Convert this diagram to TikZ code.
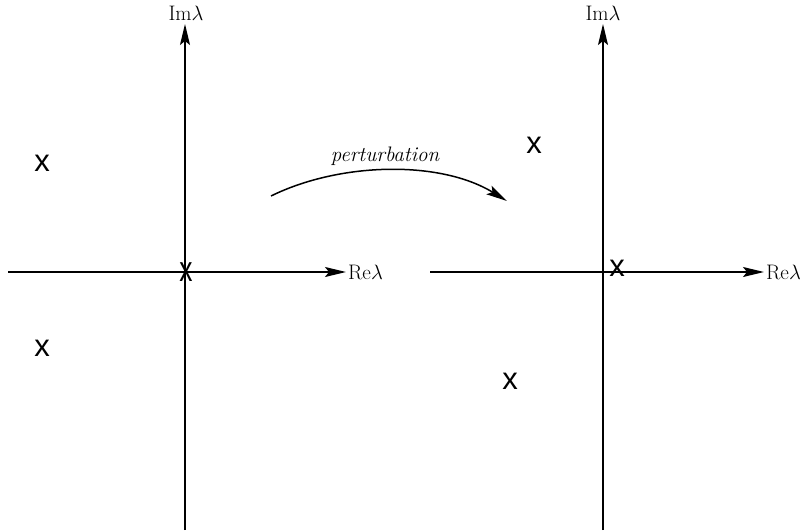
\documentclass[tikz,border=0pt]{standalone}
\usepackage{fontspec}
\newfontfamily\marksf{Liberation Sans}
\usetikzlibrary{arrows.meta}
\begin{document}
\begin{tikzpicture}[x=1pt,y=-1pt,
  tip/.style={-{Stealth[length=21pt,width=10pt,inset=4pt]}},
  axis/.style={line width=1.5pt,tip},
  lbl/.style={font=\fontsize{21}{23}\selectfont\addfontfeature{FakeBold=0.8},inner sep=0pt},
  eig/.style={font=\marksf\fontsize{31}{32}\selectfont,inner sep=0pt},
  pert/.style={font=\fontsize{21}{23}\selectfont\itshape\addfontfeature{LetterSpace=8,FakeBold=0.6},inner sep=0pt}]
\useasboundingbox (0,0) rectangle (808,530);
% left axes
\coordinate (lb) at (185,530);
\coordinate (lt) at (185,24);
\coordinate (ll) at (8,272);
\coordinate (lr) at (346,272);
\draw[axis] (lb) -- (lt);
\draw[axis] (ll) -- (lr);
\node[lbl,anchor=base] (limlab) at (186,20) {Im$\lambda$};
\node[lbl,anchor=west] (lrelab) at (348,272) {Re$\lambda$};
% right axes
\coordinate (rb) at (603,530);
\coordinate (rt) at (603,24);
\coordinate (rl) at (430,272);
\coordinate (rr) at (764,272);
\draw[axis] (rb) -- (rt);
\draw[axis] (rl) -- (rr);
\node[lbl,anchor=base] (rimlab) at (603,20) {Im$\lambda$};
\node[lbl,anchor=west] (rrelab) at (766,272) {Re$\lambda$};
% eigenvalues
\node[eig] (e1) at (42,163) {x};
\node[eig] (e2) at (42,348) {x};
\node[eig,yscale=1.15,xscale=0.85] (e0) at (186,272) {x};
\node[eig] (f1) at (534,145) {x};
\node[eig] (f2) at (510,381) {x};
\node[eig] (f0) at (617,268) {x};
% perturbation arrow
\coordinate (ps) at (271,196);
\coordinate (pe) at (507,201);
\draw[line width=1.5pt,tip] (ps) .. controls (340,162) and (440,160) .. (pe);
\node[pert] (plab) at (385,156) {perturbation};
\end{tikzpicture}
\end{document}
